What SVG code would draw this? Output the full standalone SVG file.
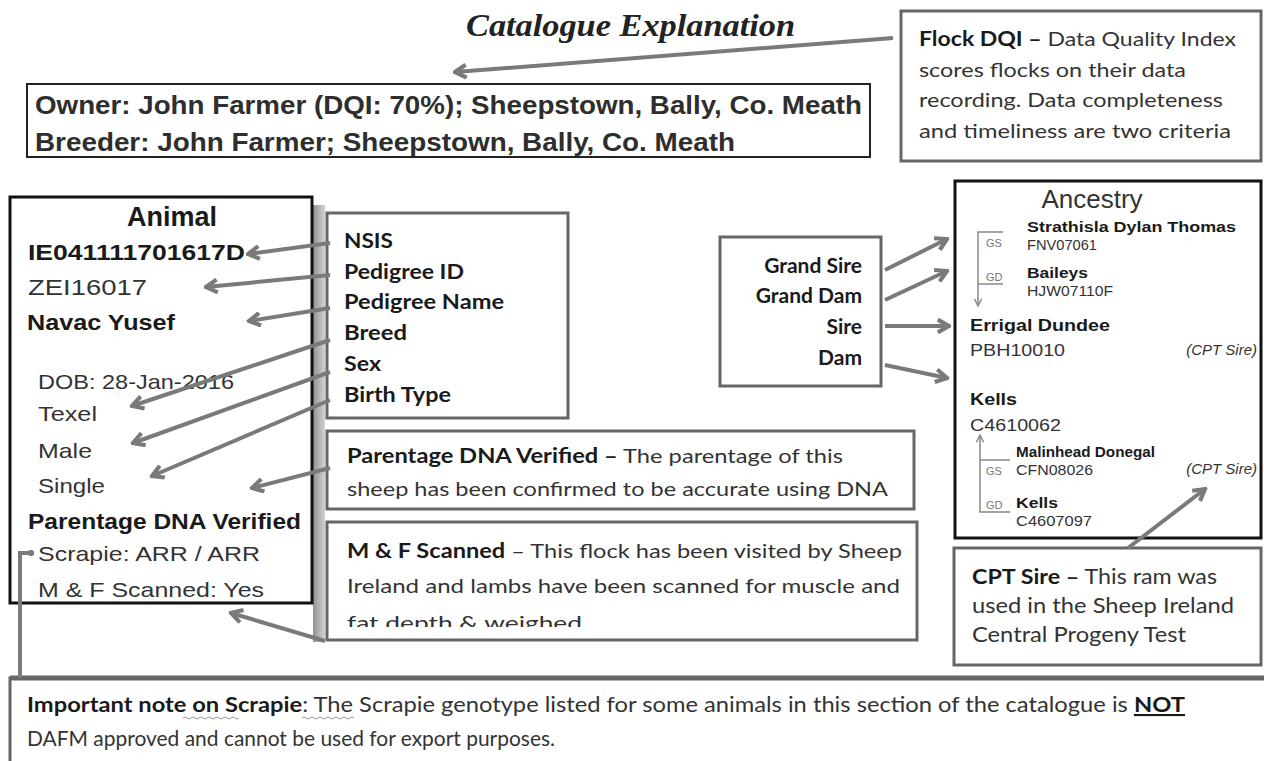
<svg xmlns="http://www.w3.org/2000/svg" width="1264" height="761" viewBox="0 0 1264 761">
<style>
.a{font-family:"Liberation Sans",Arial,sans-serif;fill:#333}
.n{font-family:"Liberation Sans Narrow","Liberation Sans",Arial,sans-serif;fill:#2e2e2e}
.c{font-family:Lato,"Open Sans","Noto Sans",sans-serif;fill:#333}
.b{font-weight:bold;fill:#1a1a1a}
.i{font-style:italic}
.box{fill:#fff;stroke:#666;stroke-width:3}
.kbox{fill:#fff;stroke:#111;stroke-width:3}
.con{fill:none;stroke:#7a7a7a;stroke-width:4;marker-end:url(#ah)}
.br{fill:none;stroke:#888;stroke-width:1.5}
.sm{font-family:"Liberation Sans",Arial,sans-serif;fill:#777;font-size:11px}
</style>
<defs>
<marker id="ah" viewBox="0 0 10 10" refX="8.5" refY="5" markerWidth="16" markerHeight="16" markerUnits="userSpaceOnUse" orient="auto">
<path d="M1.5,1 L8.5,5 L1.5,9" fill="none" stroke="#7a7a7a" stroke-width="2.6" stroke-linejoin="miter"/>
</marker>
<marker id="sah" viewBox="0 0 10 10" refX="9" refY="5" markerWidth="9" markerHeight="9" markerUnits="userSpaceOnUse" orient="auto">
<path d="M1,1 L9,5 L1,9" fill="none" stroke="#888" stroke-width="1.6"/>
</marker>
<marker id="dot" viewBox="0 0 10 10" refX="5" refY="5" markerWidth="7" markerHeight="7" markerUnits="userSpaceOnUse">
<circle cx="5" cy="5" r="4.5" fill="#7a7a7a"/>
</marker>
<linearGradient id="sh" x1="0" y1="0" x2="1" y2="0">
<stop offset="0" stop-color="#777"/>
<stop offset="1" stop-color="#c8c8c8"/>
</linearGradient>
<clipPath id="mfclip"><rect x="330" y="525" width="585" height="102"/></clipPath>
</defs>
<rect width="1264" height="761" fill="#fff"/>

<rect x="313" y="205" width="12" height="437" fill="url(#sh)" opacity="0.8"/>

<g id="title">
<text x="466" y="36" font-family="'Liberation Serif',serif" font-size="32" font-style="italic" font-weight="bold" fill="#222" textLength="329" lengthAdjust="spacingAndGlyphs">Catalogue Explanation</text>
</g>

<g id="owner">
<rect x="27" y="84" width="843" height="73" fill="#fff" stroke="#222" stroke-width="2"/>
<text class="n" x="35" y="114" font-size="25" font-weight="bold" textLength="827" lengthAdjust="spacingAndGlyphs">Owner: John Farmer (DQI: 70%); Sheepstown, Bally, Co. Meath</text>
<text class="n" x="35" y="151" font-size="25" font-weight="bold" textLength="700" lengthAdjust="spacingAndGlyphs">Breeder: John Farmer; Sheepstown, Bally, Co. Meath</text>
</g>

<g id="flock-dqi">
<rect x="901" y="11" width="360" height="150" class="box"/>
<text class="c" x="919" y="46" font-size="20" textLength="317" lengthAdjust="spacingAndGlyphs"><tspan class="b">Flock DQI –</tspan> Data Quality Index</text>
<text class="c" x="919" y="77" font-size="20" textLength="267" lengthAdjust="spacingAndGlyphs">scores flocks on their data</text>
<text class="c" x="919" y="107" font-size="20" textLength="304" lengthAdjust="spacingAndGlyphs">recording. Data completeness</text>
<text class="c" x="919" y="138" font-size="20" textLength="312" lengthAdjust="spacingAndGlyphs">and timeliness are two criteria</text>
</g>

<g id="animal">
<rect x="10" y="197" width="302" height="406" class="kbox"/>
<text class="a b" x="172" y="226" font-size="27" text-anchor="middle">Animal</text>
<text class="a b" x="28" y="260" font-size="22" textLength="217" lengthAdjust="spacingAndGlyphs">IE041111701617D</text>
<text class="a" x="28" y="295" font-size="22" textLength="119" lengthAdjust="spacingAndGlyphs">ZEI16017</text>
<text class="a b" x="27" y="330" font-size="22" textLength="148" lengthAdjust="spacingAndGlyphs">Navac Yusef</text>
<text class="a" x="38" y="389" font-size="21" textLength="196" lengthAdjust="spacingAndGlyphs">DOB: 28-Jan-2016</text>
<text class="a" x="38" y="421" font-size="21" textLength="59" lengthAdjust="spacingAndGlyphs">Texel</text>
<text class="a" x="38" y="458" font-size="21" textLength="54" lengthAdjust="spacingAndGlyphs">Male</text>
<text class="a" x="38" y="493" font-size="21" textLength="67" lengthAdjust="spacingAndGlyphs">Single</text>
<text class="a b" x="28" y="529" font-size="22" textLength="273" lengthAdjust="spacingAndGlyphs">Parentage DNA Verified</text>
<text class="a" x="38" y="561" font-size="21" textLength="222" lengthAdjust="spacingAndGlyphs">Scrapie: ARR / ARR</text>
<text class="a" x="38" y="597" font-size="21" textLength="226" lengthAdjust="spacingAndGlyphs">M &amp; F Scanned: Yes</text>
</g>

<g id="fields">
<rect x="327" y="213" width="241" height="205" class="box"/>
<text class="c b" x="344" y="248" font-size="20" textLength="49" lengthAdjust="spacingAndGlyphs">NSIS</text>
<text class="c b" x="344" y="279" font-size="20" textLength="120" lengthAdjust="spacingAndGlyphs">Pedigree ID</text>
<text class="c b" x="344" y="309" font-size="20" textLength="160" lengthAdjust="spacingAndGlyphs">Pedigree Name</text>
<text class="c b" x="344" y="340" font-size="20" textLength="63" lengthAdjust="spacingAndGlyphs">Breed</text>
<text class="c b" x="344" y="371" font-size="20" textLength="37" lengthAdjust="spacingAndGlyphs">Sex</text>
<text class="c b" x="344" y="402" font-size="20" textLength="107" lengthAdjust="spacingAndGlyphs">Birth Type</text>
</g>

<g id="parentage-note">
<rect x="327" y="431" width="587" height="78" class="box"/>
<text class="c" x="347" y="463" font-size="20" textLength="496" lengthAdjust="spacingAndGlyphs"><tspan class="b">Parentage DNA Verified –</tspan> The parentage of this</text>
<text class="c" x="347" y="496" font-size="20" textLength="541" lengthAdjust="spacingAndGlyphs">sheep has been confirmed to be accurate using DNA</text>
</g>

<g id="mf-note">
<rect x="327" y="522" width="590" height="118" class="box"/>
<text class="c" x="347" y="558" font-size="20" textLength="555" lengthAdjust="spacingAndGlyphs"><tspan class="b">M &amp; F Scanned</tspan> – This flock has been visited by Sheep</text>
<text class="c" x="347" y="593" font-size="20" textLength="553" lengthAdjust="spacingAndGlyphs">Ireland and lambs have been scanned for muscle and</text>
<text class="c" x="347" y="630" font-size="20" textLength="235" lengthAdjust="spacingAndGlyphs" clip-path="url(#mfclip)">fat depth &amp; weighed</text>
</g>

<g id="relations">
<rect x="720" y="237" width="161" height="149" class="box"/>
<text class="c b" x="862" y="273" font-size="21" text-anchor="end">Grand Sire</text>
<text class="c b" x="862" y="303" font-size="21" text-anchor="end">Grand Dam</text>
<text class="c b" x="862" y="334" font-size="21" text-anchor="end">Sire</text>
<text class="c b" x="862" y="365" font-size="21" text-anchor="end">Dam</text>
</g>

<g id="ancestry">
<rect x="955" y="181" width="306" height="357" class="kbox"/>
<text class="a" x="1092" y="208" font-size="26" text-anchor="middle" fill="#222">Ancestry</text>
<path class="br" d="M1003,232 H978 V306" marker-end="url(#sah)"/>
<path class="br" d="M978,284 H1003"/>
<text class="sm" x="986" y="247">GS</text>
<text class="sm" x="986" y="281">GD</text>
<text class="a b" x="1027" y="232" font-size="15" textLength="209" lengthAdjust="spacingAndGlyphs">Strathisla Dylan Thomas</text>
<text class="a" x="1027" y="250" font-size="15" textLength="70" lengthAdjust="spacingAndGlyphs">FNV07061</text>
<text class="a b" x="1027" y="278" font-size="15" textLength="61" lengthAdjust="spacingAndGlyphs">Baileys</text>
<text class="a" x="1027" y="296" font-size="15" textLength="86" lengthAdjust="spacingAndGlyphs">HJW07110F</text>
<text class="a b" x="970" y="331" font-size="17" textLength="140" lengthAdjust="spacingAndGlyphs">Errigal Dundee</text>
<text class="a" x="970" y="356" font-size="17" textLength="95" lengthAdjust="spacingAndGlyphs">PBH10010</text>
<text class="a i" x="1257" y="355" font-size="15" text-anchor="end" fill="#555">(CPT Sire)</text>
<text class="a b" x="970" y="405" font-size="17" textLength="47" lengthAdjust="spacingAndGlyphs">Kells</text>
<text class="a" x="970" y="431" font-size="17" textLength="91" lengthAdjust="spacingAndGlyphs">C4610062</text>
<path class="br" d="M1010,512 H980 V435" marker-end="url(#sah)"/>
<path class="br" d="M980,460 H1010"/>
<text class="sm" x="986" y="475">GS</text>
<text class="sm" x="986" y="509">GD</text>
<text class="a b" x="1016" y="457" font-size="15" textLength="139" lengthAdjust="spacingAndGlyphs">Malinhead Donegal</text>
<text class="a" x="1016" y="475" font-size="15" textLength="77" lengthAdjust="spacingAndGlyphs">CFN08026</text>
<text class="a i" x="1257" y="474" font-size="15" text-anchor="end" fill="#555">(CPT Sire)</text>
<text class="a b" x="1016" y="508" font-size="15" textLength="42" lengthAdjust="spacingAndGlyphs">Kells</text>
<text class="a" x="1016" y="526" font-size="15" textLength="76" lengthAdjust="spacingAndGlyphs">C4607097</text>
</g>

<g id="cpt-note">
<rect x="954" y="548" width="307" height="117" class="box"/>
<text class="c" x="972" y="584" font-size="21" textLength="245" lengthAdjust="spacingAndGlyphs"><tspan class="b">CPT Sire –</tspan> This ram was</text>
<text class="c" x="972" y="613" font-size="21" textLength="262" lengthAdjust="spacingAndGlyphs">used in the Sheep Ireland</text>
<text class="c" x="972" y="642" font-size="21" textLength="214" lengthAdjust="spacingAndGlyphs">Central Progeny Test</text>
</g>

<g id="scrapie-note">
<rect x="10" y="678" width="1264" height="100" fill="#fff" stroke="#666" stroke-width="3"/>
<line x1="10" y1="678" x2="1264" y2="678" stroke="#666" stroke-width="5"/>
<text class="c" x="27" y="712" font-size="21" textLength="1158" lengthAdjust="spacingAndGlyphs"><tspan class="b">Important note on Scrapie</tspan>: The Scrapie genotype listed for some animals in this section of the catalogue is <tspan class="b" text-decoration="underline">NOT</tspan></text>
<text class="c" x="27" y="746" font-size="21" textLength="528" lengthAdjust="spacingAndGlyphs">DAFM approved and cannot be used for export purposes.</text>
<path d="M183,718 q2,-2 4,0 t4,0 t4,0 t4,0 t4,0 t4,0 t4,0 t4,0 t4,0 t4,0 t4,0 t4,0 t4,0 t4,0" fill="none" stroke="#999" stroke-width="1"/>
<path d="M302,718 q2,-2 4,0 t4,0 t4,0 t4,0 t4,0 t4,0 t4,0 t4,0 t4,0 t4,0 t4,0 t4,0 t4,0" fill="none" stroke="#999" stroke-width="1"/>
</g>

<g id="connectors">
<line class="con" x1="893" y1="38" x2="455" y2="72"/>
<line class="con" x1="330" y1="243" x2="248" y2="254"/>
<line class="con" x1="330" y1="275" x2="206" y2="287"/>
<line class="con" x1="330" y1="308" x2="249" y2="321"/>
<line class="con" x1="330" y1="340" x2="132" y2="406"/>
<line class="con" x1="330" y1="372" x2="133" y2="443"/>
<line class="con" x1="330" y1="400" x2="152" y2="476"/>
<line class="con" x1="330" y1="468" x2="252" y2="488"/>
<line class="con" x1="325" y1="641" x2="231" y2="613"/>
<line class="con" x1="885" y1="270" x2="947" y2="239"/>
<line class="con" x1="885" y1="300" x2="947" y2="271"/>
<line class="con" x1="885" y1="326" x2="949" y2="326"/>
<line class="con" x1="885" y1="365" x2="947" y2="378"/>
<line class="con" x1="1128" y1="548" x2="1205" y2="489"/>
<path d="M20,678 V553 H31" fill="none" stroke="#7a7a7a" stroke-width="4" marker-end="url(#dot)"/>
</g>
</svg>
